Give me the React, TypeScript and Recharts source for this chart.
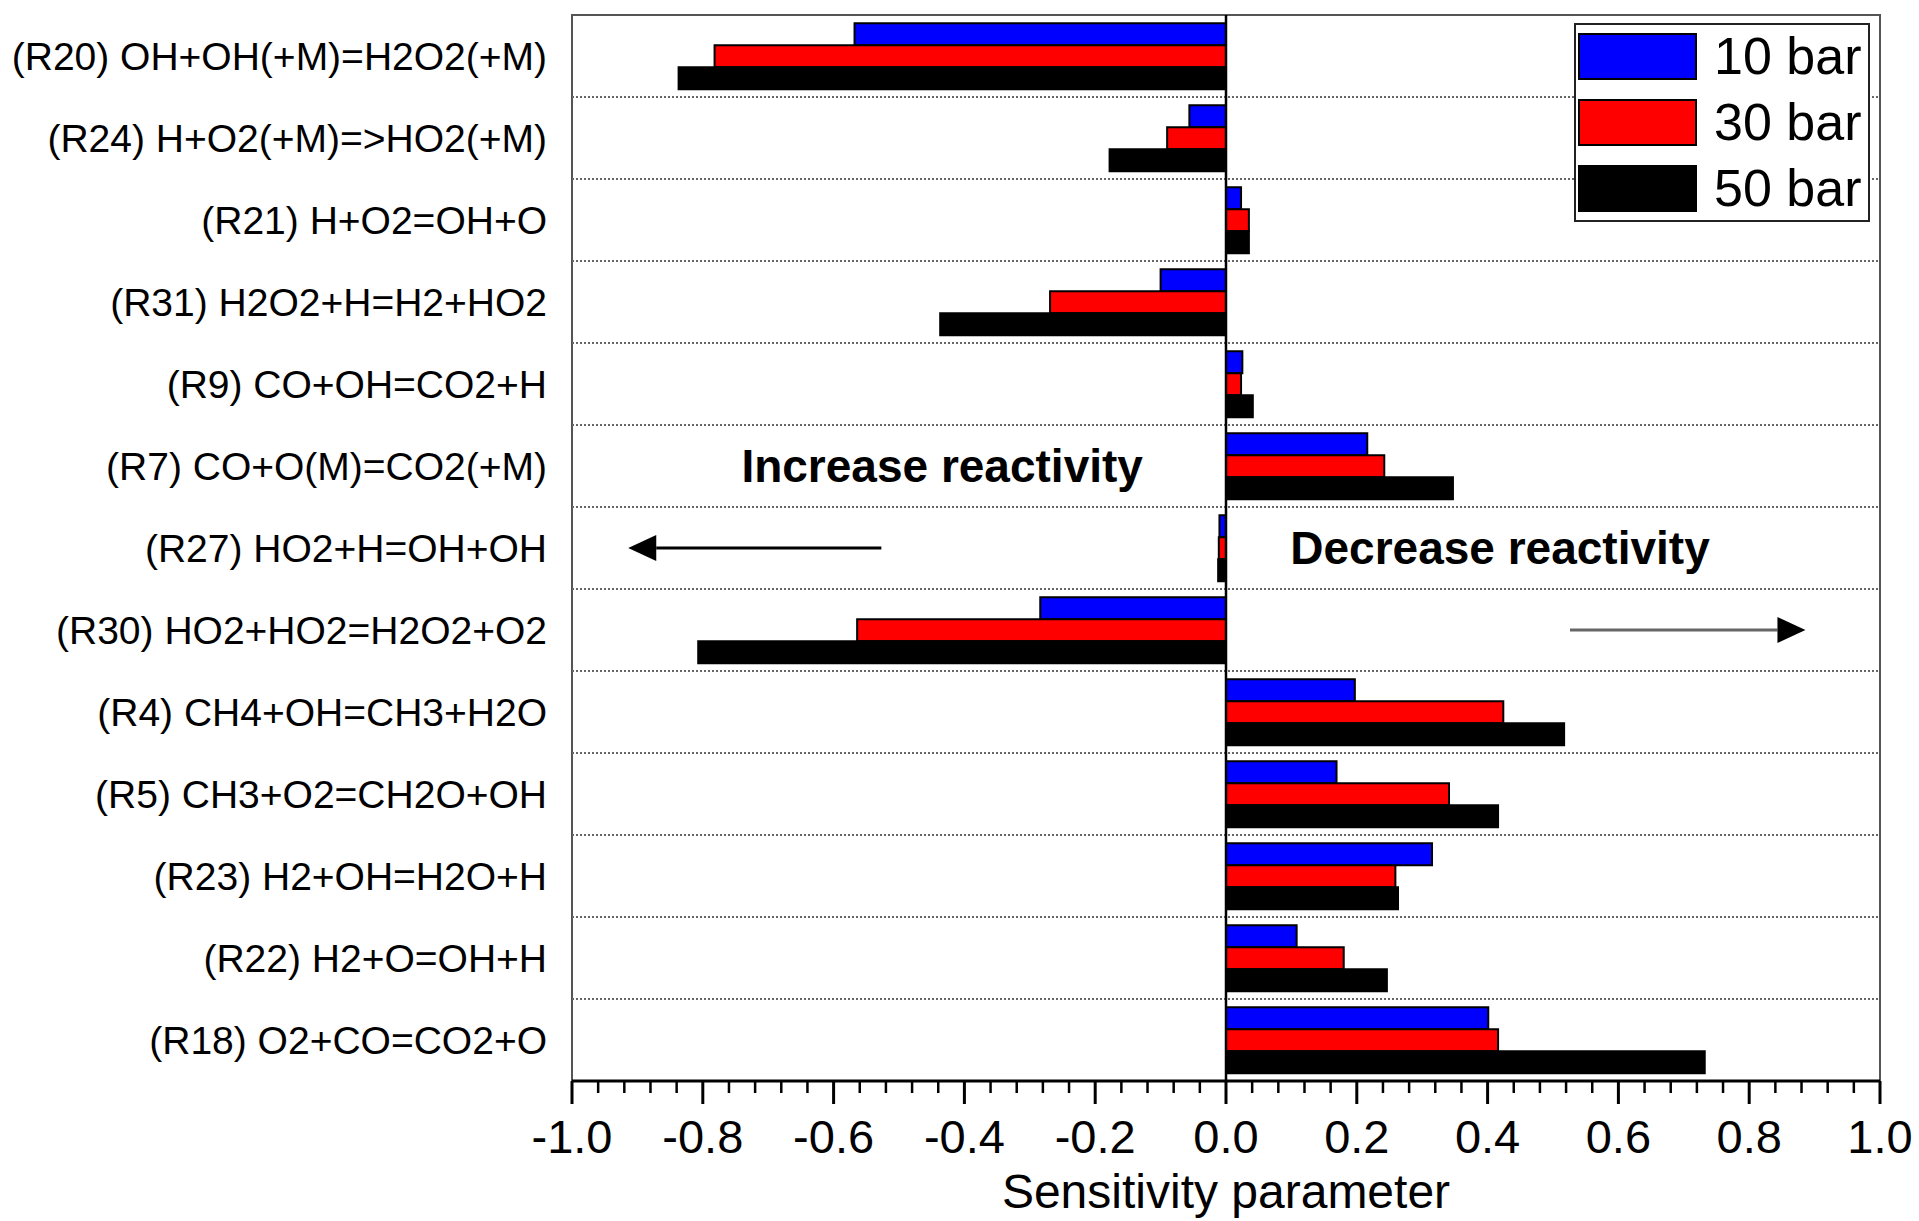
import {
  BarChart,
  Bar,
  XAxis,
  YAxis,
  ReferenceLine,
  ReferenceArea,
  ReferenceDot,
  Legend,
} from 'recharts';

const reactions = [
  '(R20) OH+OH(+M)=H2O2(+M)',
  '(R24) H+O2(+M)=>HO2(+M)',
  '(R21) H+O2=OH+O',
  '(R31) H2O2+H=H2+HO2',
  '(R9) CO+OH=CO2+H',
  '(R7) CO+O(M)=CO2(+M)',
  '(R27) HO2+H=OH+OH',
  '(R30) HO2+HO2=H2O2+O2',
  '(R4) CH4+OH=CH3+H2O',
  '(R5) CH3+O2=CH2O+OH',
  '(R23) H2+OH=H2O+H',
  '(R22) H2+O=OH+H',
  '(R18) O2+CO=CO2+O',
];

const bar10 = [-0.568, -0.056, 0.023, -0.1, 0.025, 0.216, -0.01, -0.284, 0.197, 0.169, 0.315, 0.108, 0.401];
const bar30 = [-0.782, -0.09, 0.035, -0.269, 0.023, 0.242, -0.011, -0.564, 0.424, 0.341, 0.259, 0.18, 0.416];
const bar50 = [-0.837, -0.178, 0.035, -0.437, 0.041, 0.347, -0.012, -0.807, 0.517, 0.416, 0.263, 0.246, 0.732];

const majorTicks = [-1, -0.8, -0.6, -0.4, -0.2, 0, 0.2, 0.4, 0.6, 0.8, 1];

const allTicks: number[] = [];
majorTicks.forEach((t, i) => {
  allTicks.push(t);
  const next = majorTicks[i + 1];
  if (next === undefined) return;
  for (let k = 1; k < 5; k++) {
    allTicks.push(Number((t + ((next - t) * k) / 5).toFixed(2)));
  }
});

const data = reactions.map((name, i) => ({
  name,
  p10: bar10[i],
  p30: bar30[i],
  p50: bar50[i],
}));

const FONT = '"Liberation Sans", Arial, sans-serif';

const XTick = ({ x, y, payload }: any) => {
  const v = payload.value as number;
  const major = majorTicks.some((m) => Math.abs(m - v) < 1e-6);
  return (
    <g>
      <line
        x1={x}
        x2={x}
        y1={y}
        y2={y + (major ? 23 : 12)}
        stroke="#000"
        strokeWidth={major ? 3 : 2.5}
      />
      {major && (
        <text x={x} y={y + 72} textAnchor="middle" fontSize={47} fill="#000">
          {v.toFixed(1)}
        </text>
      )}
    </g>
  );
};

const Arrow = ({ x1, y1, x2, color }: any) => {
  const dir = x2 > x1 ? 1 : -1;
  const head = 28;
  return (
    <g>
      <line x1={x1} y1={y1} x2={x2 - dir * head} y2={y1} stroke={color} strokeWidth={3} />
      <polygon
        points={`${x2},${y1} ${x2 - dir * head},${y1 - 13} ${x2 - dir * head},${y1 + 13}`}
        fill="#000"
      />
    </g>
  );
};

const renderLegend = (props: any) => {
  const payload = props.payload || [];
  return (
    <div
      style={{
        width: 296,
        height: 199,
        boxSizing: 'border-box',
        border: '2px solid #222',
        background: '#fff',
        position: 'relative',
        fontFamily: FONT,
      }}
    >
      {payload.map((entry: any, i: number) => (
        <div
          key={entry.value}
          style={{
            position: 'absolute',
            left: 2,
            top: 8 + i * 66,
            display: 'flex',
            alignItems: 'center',
            height: 47,
            whiteSpace: 'nowrap',
          }}
        >
          <div
            style={{
              width: 119,
              height: 47,
              flexShrink: 0,
              boxSizing: 'border-box',
              background: entry.color,
              border: '2px solid #000',
            }}
          />
          <span
            style={{
              marginLeft: 17,
              fontSize: 52,
              lineHeight: '47px',
              color: '#000',
              whiteSpace: 'nowrap',
            }}
          >
            {entry.value}
          </span>
        </div>
      ))}
    </div>
  );
};

export default function App() {
  return (
    <div
      style={{
        position: 'absolute',
        left: 0,
        top: 0,
        width: 1919,
        height: 1221,
        background: '#fff',
        fontFamily: FONT,
      }}
    >
      <BarChart
        width={1919}
        height={1221}
        data={data}
        layout="vertical"
        margin={{ top: 15, right: 39, bottom: 0, left: 0 }}
        barCategoryGap="10%"
        barGap={0}
        style={{ fontFamily: FONT }}
      >
        <XAxis
          type="number"
          domain={[-1, 1]}
          ticks={allTicks}
          interval={0}
          tick={XTick}
          tickLine={false}
          tickSize={0}
          tickMargin={0}
          height={140}
          axisLine={{ stroke: '#000', strokeWidth: 3 }}
          label={{
            value: 'Sensitivity parameter',
            position: 'insideBottom',
            offset: 13,
            fontSize: 48,
            fill: '#000',
          }}
        />
        <YAxis
          type="category"
          dataKey="name"
          width={572}
          interval={0}
          tickLine={false}
          axisLine={false}
          tickSize={0}
          tickMargin={25}
          tick={{ fontSize: 39, fill: '#000' }}
        />
        {reactions.slice(1).map((r) => (
          <ReferenceLine
            key={r}
            y={r}
            position="start"
            stroke="#666"
            strokeWidth={2}
            strokeDasharray="2 2"
          />
        ))}
        <ReferenceArea x1={-1} x2={1} fill="none" stroke="#555" strokeWidth={2} />
        <Bar dataKey="p10" name="10 bar" fill="#0000ff" stroke="#000" strokeWidth={2} isAnimationActive={false} />
        <Bar dataKey="p30" name="30 bar" fill="#ff0000" stroke="#000" strokeWidth={2} isAnimationActive={false} />
        <Bar dataKey="p50" name="50 bar" fill="#000000" stroke="#000" strokeWidth={2} isAnimationActive={false} />
        <ReferenceLine x={0} stroke="#000" strokeWidth={2.5} />
        <ReferenceLine
          segment={[
            { x: -0.527, y: reactions[6] },
            { x: -0.914, y: reactions[6] },
          ]}
          shape={(p: any) => <Arrow {...p} color="#000" />}
        />
        <ReferenceLine
          segment={[
            { x: 0.526, y: reactions[7] },
            { x: 0.886, y: reactions[7] },
          ]}
          shape={(p: any) => <Arrow {...p} color="#666" />}
        />
        <ReferenceDot
          x={-0.434}
          y={reactions[5]}
          r={0}
          fill="none"
          stroke="none"
          label={{
            value: 'Increase reactivity',
            position: 'center',
            fontSize: 46,
            fontWeight: 700,
            fill: '#000',
          }}
        />
        <ReferenceDot
          x={0.419}
          y={reactions[6]}
          r={0}
          fill="none"
          stroke="none"
          label={{
            value: 'Decrease reactivity',
            position: 'center',
            fontSize: 46,
            fontWeight: 700,
            fill: '#000',
          }}
        />
        <Legend
          layout="vertical"
          align="center"
          verticalAlign="middle"
          content={renderLegend}
          wrapperStyle={{ top: 23, left: 1574, width: 296, height: 199 }}
        />
      </BarChart>
    </div>
  );
}
